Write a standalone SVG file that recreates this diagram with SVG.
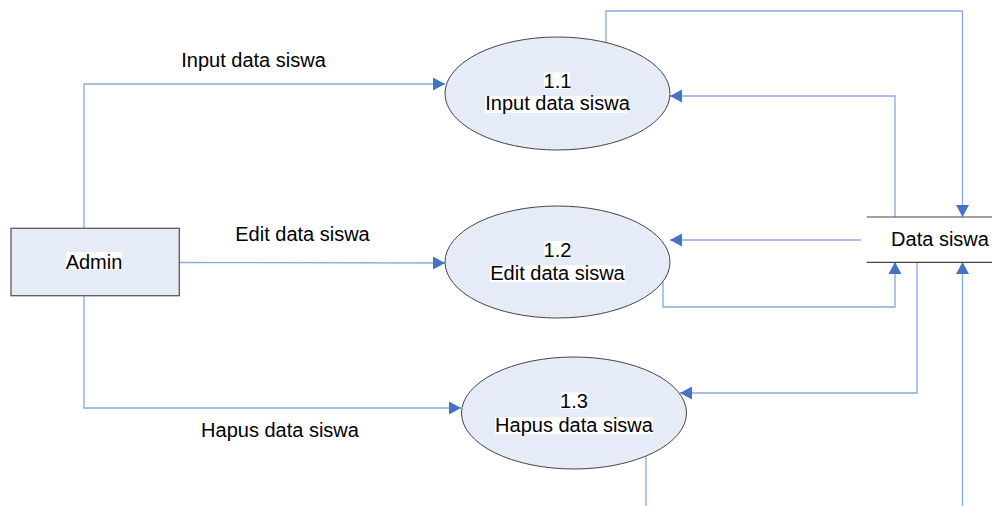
<svg xmlns="http://www.w3.org/2000/svg" width="992" height="506" viewBox="0 0 992 506">
  <style>
    .flow { fill: none; stroke: #88aadf; stroke-width: 1.3; }
    .proc { fill: #e6ecf7; stroke: #454545; stroke-width: 1; }
    .ent { fill: #e6ecf7; stroke: #5a5a5a; stroke-width: 1.3; }
    .store { stroke: #454545; stroke-width: 1.2; }
    .lbl { font-family: "Liberation Sans", Arial, sans-serif; font-size: 20px; fill: #000; text-anchor: middle; }
    .hl { fill: #ffffff; }
  </style>
  <defs>
    <marker id="arrow" markerUnits="userSpaceOnUse" markerWidth="12" markerHeight="13" refX="12" refY="6.5" orient="auto">
      <path d="M0,0 L12,6.5 L0,13 Z" fill="#4472c4"/>
    </marker>
  </defs>

  <!-- data flows -->
  <g id="connectors">
    <path class="flow" d="M84,228 V84 H445" marker-end="url(#arrow)"/>
    <path class="flow" d="M180,262.5 L445,263" marker-end="url(#arrow)"/>
    <path class="flow" d="M84,296 V408 H461" marker-end="url(#arrow)"/>
    <path class="flow" d="M606,42.5 V11 H962.5 V217" marker-end="url(#arrow)"/>
    <path class="flow" d="M895,217 V96 H670" marker-end="url(#arrow)"/>
    <path class="flow" d="M861,240 H670" marker-end="url(#arrow)"/>
    <path class="flow" d="M663,282 V307 H895 V262" marker-end="url(#arrow)"/>
    <path class="flow" d="M917,262 V393 H680" marker-end="url(#arrow)"/>
    <path class="flow" d="M646,456 V506"/>
    <path class="flow" d="M962.5,506 V262" marker-end="url(#arrow)"/>
    <text class="lbl" x="253.5" y="66.5">Input data siswa</text>
    <text class="lbl" x="302.5" y="240.5">Edit data siswa</text>
    <text class="lbl" x="280" y="436.5">Hapus data siswa</text>
  </g>

  <!-- external entity -->
  <g id="admin">
    <rect class="ent" x="11" y="228.3" width="168.3" height="67.4"/>
    <rect class="hl" x="66" y="252" width="56" height="18"/>
    <text class="lbl" x="94" y="269">Admin</text>
  </g>

  <!-- processes -->
  <g id="proc-1-1">
    <ellipse class="proc" cx="557.5" cy="93.5" rx="112.5" ry="56.5"/>
    <rect class="hl" x="544" y="72.5" width="26" height="16.5"/>
    <rect class="hl" x="485" y="96" width="142" height="17"/>
    <text class="lbl" x="557.5" y="88.3">1.1</text>
    <text class="lbl" x="557.5" y="110">Input data siswa</text>
  </g>

  <g id="proc-1-2">
    <ellipse class="proc" cx="557.5" cy="262" rx="112.5" ry="56"/>
    <rect class="hl" x="544" y="241" width="26" height="16.5"/>
    <rect class="hl" x="490" y="265.5" width="135" height="16.5"/>
    <text class="lbl" x="557.5" y="256.7">1.2</text>
    <text class="lbl" x="557.5" y="280">Edit data siswa</text>
  </g>

  <g id="proc-1-3">
    <ellipse class="proc" cx="574" cy="413" rx="112.5" ry="56"/>
    <rect class="hl" x="561" y="392.5" width="26" height="16.5"/>
    <rect class="hl" x="495" y="417" width="158" height="17"/>
    <text class="lbl" x="574" y="408.3">1.3</text>
    <text class="lbl" x="574" y="431.7">Hapus data siswa</text>
  </g>

  <!-- data store -->
  <g id="data-siswa">
    <line class="store" x1="866.7" y1="217" x2="992" y2="217"/>
    <line class="store" x1="866.7" y1="262.3" x2="992" y2="262.3"/>
    <text class="lbl" x="940" y="245.7">Data siswa</text>
  </g>
</svg>
